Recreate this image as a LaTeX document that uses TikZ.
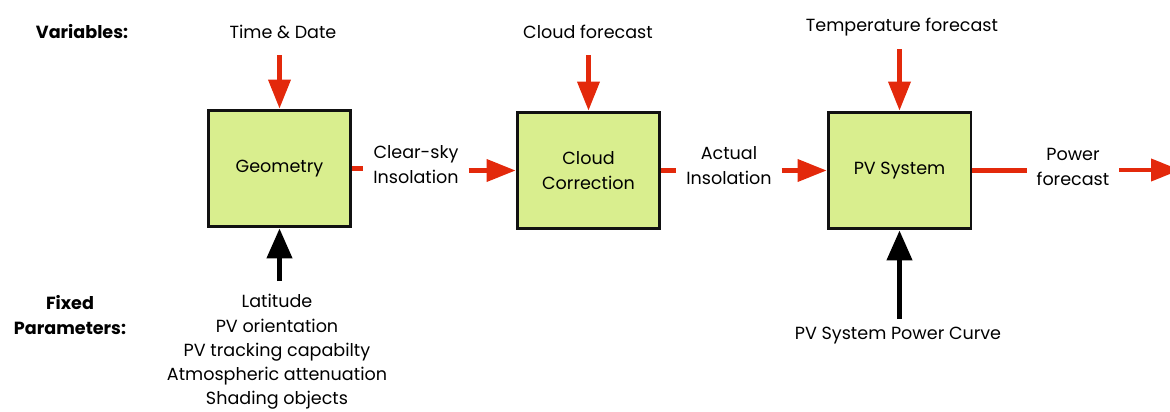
\documentclass[tikz,border=0pt]{standalone}
\usepackage{fontspec}
\setmainfont{Poppins}
\usepackage{xcolor}
\usetikzlibrary{positioning,calc,arrows.meta}
\definecolor{pvRed}{HTML}{E3290B}
\definecolor{pvGreen}{HTML}{D9EE8E}
\definecolor{pvLine}{HTML}{111111}

\begin{document}
\begin{tikzpicture}[x=0.02cm, y=-0.02cm,
  txt/.style={font=\fontsize{10}{14.2}\selectfont},
  lbl/.style={txt, align=center, inner sep=0pt},
  flowLbl/.style={lbl, outer sep=0.2cm},
  head/.style={lbl, font=\fontsize{10}{14.2}\selectfont\bfseries},
  block/.style={txt, draw=pvLine, fill=pvGreen, line width=1.7pt,
    minimum width=2.86cm, minimum height=2.34cm, align=center, inner sep=0pt},
  redLine/.style={draw=pvRed, line width=2.3pt},
  redArrow/.style={redLine, -{Triangle[width=0.44cm, length=0.58cm]}},
  blackArrow/.style={draw=black, line width=2.6pt, -{Triangle[width=0.5cm, length=0.6cm]}}
]

%% --- FRAME ---
\useasboundingbox (0,0) rectangle (1170,412);
\clip (0,0) rectangle (1170,412);

% --- BLOCKS ---
\node[block] (geo)   at (279.5,168.5) {Geometry};
\node[block] (cloud) at (588.5,170.5) {Cloud\\Correction};
\node[block] (pvsys) at (899.5,170.5) {PV System};

% --- ROW HEADINGS ---
\node[head] (varlbl) at (82,32)  {Variables:};
\node[head] (fixlbl) at (70,315) {Fixed\\Parameters:};

% --- VARIABLES (top inputs) ---
\node[lbl] (timedate) at (283,32) {Time \& Date};
\node[lbl] (cloudfc)  at (588,32) {Cloud forecast};
\node[lbl] (tempfc)   at (902,27) {Temperature forecast};

\draw[redArrow, shorten <=0.32cm] (geo.north |- timedate.south) -- (geo.north);
\draw[redArrow, shorten <=0.32cm] (cloud.north |- cloudfc.south) -- (cloud.north);
\draw[redArrow, shorten <=0.26cm] (pvsys.north |- tempfc.south) -- (pvsys.north);

% --- MAIN FLOW ---
\node[flowLbl] (clearsky) at (416,165)  {Clear-sky\\Insolation};
\node[flowLbl] (actual)   at (729,166)  {Actual\\Insolation};
\node[flowLbl] (powerfc)  at (1073,167) {Power\\forecast};
\coordinate (out) at (1180,170);

\draw[redLine]  (geo.east) -- (geo.east -| clearsky.west);
\draw[redArrow] (clearsky.east |- cloud.west) -- (cloud.west);
\draw[redLine]  (cloud.east) -- (cloud.east -| actual.west);
\draw[redArrow] (actual.east |- pvsys.west) -- (pvsys.west);
\draw[redLine]  (pvsys.east) -- (pvsys.east -| powerfc.west);
\draw[redArrow] (powerfc.east |- out) -- (out);

% --- FIXED PARAMETERS (bottom inputs) ---
\node[lbl, font=\fontsize{10}{13.8}\selectfont] (geoparams) at (277,352)
  {Latitude\\PV orientation\\PV tracking capabilty\\Atmospheric attenuation\\Shading objects};
\node[lbl] (pvcurve)   at (898,336) {PV System Power Curve};

\draw[blackArrow, shorten <=0.26cm] (geo.south |- geoparams.north) -- (geo.south);
\draw[blackArrow, shorten <=0.16cm] (pvsys.south |- pvcurve.north) -- (pvsys.south);

\end{tikzpicture}
\end{document}
